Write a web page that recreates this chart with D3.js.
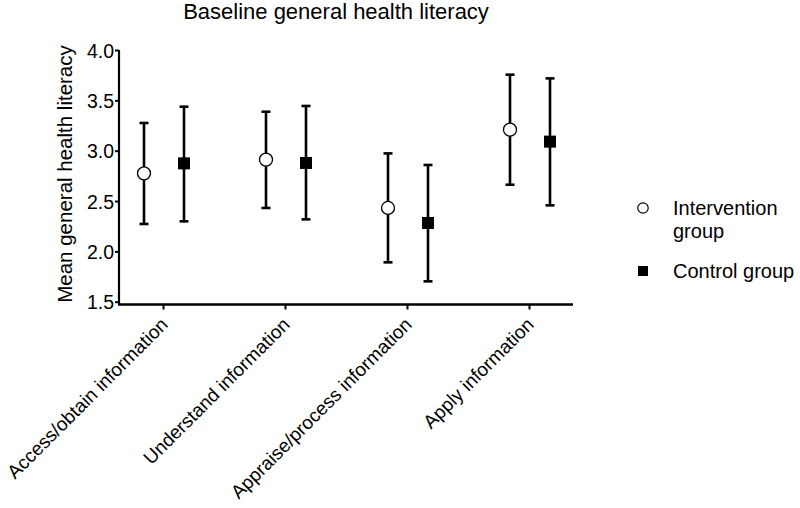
<!DOCTYPE html>
<html><head><meta charset="utf-8">
<script src="https://cdn.jsdelivr.net/npm/d3@7"></script>
<style>body{margin:0;background:#fff;} text{font-family:"Liberation Sans",Arial,sans-serif;fill:#000;}</style>
</head><body><svg id="c" width="800" height="508"></svg>
<script>
const categories = ["Access/obtain information","Understand information","Appraise/process information","Apply information"];
const interventionMean = [2.775, 2.911, 2.431, 3.209];
const interventionLow  = [2.272, 2.431, 1.891, 2.662];
const interventionHigh = [3.275, 3.387, 2.973, 3.755];
const controlMean = [2.874, 2.878, 2.282, 3.090];
const controlLow  = [2.298, 2.318, 1.702, 2.457];
const controlHigh = [3.437, 3.444, 2.858, 3.718];
const yTicks = [1.5, 2.0, 2.5, 3.0, 3.5, 4.0];
const seriesNames = ["Intervention group", "Control group"];

const svg = d3.select("#c");
const x = d3.scalePoint().domain(categories).range([163, 529]);
const y = d3.scaleLinear().domain([1.5, 4.0]).range([301.7, 50]);

svg.append("text").attr("x", 336).attr("y", 19).attr("text-anchor","middle")
  .style("font-size","22px").text("Baseline general health literacy");

// y axis
const yAxis = svg.append("g").attr("transform","translate(119,0)")
  .call(d3.axisLeft(y).tickValues(yTicks).tickFormat(d3.format(".1f")).tickSize(4).tickPadding(1));
yAxis.select(".domain").attr("d","M0,50V304.5").attr("stroke","#000").attr("stroke-width",2.2);
yAxis.selectAll(".tick line").attr("stroke-width",2);
yAxis.selectAll(".tick text").style("font-size","19.5px").attr("dy","0.36em");

// x axis
const xAxis = svg.append("g").attr("transform","translate(0,304.5)")
  .call(d3.axisBottom(x).tickSize(5).tickPadding(4));
xAxis.select(".domain").attr("d","M118,0H573").attr("stroke","#000").attr("stroke-width",2.4);
xAxis.selectAll(".tick line").attr("stroke-width",2);
xAxis.selectAll(".tick text").style("font-size","19px").attr("text-anchor","end")
  .attr("dy","0").attr("transform","translate(-1,15) rotate(-45)");

svg.append("text").attr("transform","translate(72,174) rotate(-90)").attr("text-anchor","middle")
  .style("font-size","20.5px").text("Mean general health literacy");

const groups = [
  {mean: interventionMean, low: interventionLow, high: interventionHigh, off: -19, shape: "circle"},
  {mean: controlMean, low: controlLow, high: controlHigh, off: 21, shape: "square"}
];
groups.forEach(g => {
  const gg = svg.append("g");
  categories.forEach((c, i) => {
    const cx = x(c) + g.off;
    gg.append("line").attr("x1",cx).attr("x2",cx).attr("y1",y(g.low[i])).attr("y2",y(g.high[i]))
      .attr("stroke","#000").attr("stroke-width",2.6);
    [g.low[i], g.high[i]].forEach(v => gg.append("line").attr("x1",cx-4.5).attr("x2",cx+4.5)
      .attr("y1",y(v)).attr("y2",y(v)).attr("stroke","#000").attr("stroke-width",2.6));
    if (g.shape === "circle") {
      gg.append("circle").attr("cx",cx).attr("cy",y(g.mean[i])).attr("r",6.5)
        .attr("fill","#fff").attr("stroke","#000").attr("stroke-width",1.3);
    } else {
      gg.append("rect").attr("x",cx-6).attr("y",y(g.mean[i])-6).attr("width",12).attr("height",12).attr("fill","#000");
    }
  });
});

// legend
const lg = svg.append("g");
lg.append("circle").attr("cx",643).attr("cy",208).attr("r",5.2).attr("fill","#fff").attr("stroke","#000").attr("stroke-width",1.2);
lg.append("text").attr("x",673).attr("y",215).style("font-size","20px").text("Intervention");
lg.append("text").attr("x",673).attr("y",238).style("font-size","20px").text("group");
lg.append("rect").attr("x",638).attr("y",266).attr("width",10).attr("height",10).attr("fill","#000");
lg.append("text").attr("x",673).attr("y",278).style("font-size","20px").text("Control group");
</script></body></html>
